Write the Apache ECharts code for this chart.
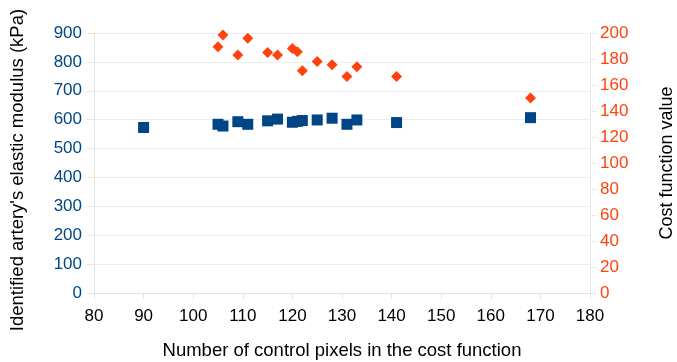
<!DOCTYPE html>
<html>
<head>
    <meta charset="utf-8">
    <title>Elastic modulus vs control pixels</title>
    <script src="https://cdn.jsdelivr.net/npm/echarts@6/dist/echarts.min.js"></script>
    <style>
        html, body { margin: 0; padding: 0; background: #fff; }
        #chart { width: 677px; height: 362px; }
    </style>
</head>
<body>
<div id="chart"></div>
<script>
    // number of control pixels (x)
    var pixels = [90, 105, 106, 109, 111, 115, 117, 120, 121, 122, 125, 128, 131, 133, 141, 168];
    // identified elastic modulus, kPa (left axis)
    var modulus = [573, 584, 578, 593, 584, 596, 602, 591, 594, 597, 599, 605, 584, 599, 590, 607];
    // cost function value (right axis), no value at 90
    var costPixels = [105, 106, 109, 111, 115, 117, 120, 121, 122, 125, 128, 131, 133, 141, 168];
    var cost = [189.5, 198.5, 183, 196, 185, 183, 188, 185.5, 171, 178, 175.5, 166.5, 174, 166.5, 150];

    var blue = '#004586';
    var orange = '#ff420e';
    var font = 'Liberation Sans';

    var modulusData = [];
    for (var i = 0; i < pixels.length; i++) {
        modulusData.push([pixels[i], modulus[i]]);
    }
    var costData = [];
    for (var j = 0; j < costPixels.length; j++) {
        costData.push([costPixels[j], cost[j]]);
    }

    var myChart = echarts.init(document.getElementById('chart'));
    var option = {
        animation: false,
        grid: { left: 94, right: 87, top: 33, bottom: 69, outerBoundsMode: 'none' },
        xAxis: {
            type: 'value',
            min: 80, max: 180, interval: 10,
            name: 'Number of control pixels in the cost function',
            nameLocation: 'middle',
            nameGap: 48,
            nameTextStyle: { color: '#000', fontFamily: font, fontSize: 18.5 },
            axisLine: { show: true, lineStyle: { color: '#e3e3e3' } },
            axisTick: { show: true, length: 6, lineStyle: { color: '#e3e3e3' } },
            axisLabel: { color: '#000', fontFamily: font, fontSize: 17, margin: 15 },
            splitLine: { show: false }
        },
        yAxis: [{
            type: 'value',
            position: 'left',
            min: 0, max: 900, interval: 100,
            name: "Identified artery's elastic modulus (kPa)",
            nameLocation: 'middle',
            nameGap: 67,
            nameTextStyle: { color: '#000', fontFamily: font, fontSize: 18.5, padding: [0, 14, 0, 0] },
            axisLine: { show: true, lineStyle: { color: '#e3e3e3' } },
            axisTick: { show: true, length: 7, lineStyle: { color: '#e3e3e3' } },
            axisLabel: { color: blue, fontFamily: font, fontSize: 17, margin: 12 },
            splitLine: { show: true, lineStyle: { color: '#eeeeee' } }
        }, {
            type: 'value',
            position: 'right',
            min: 0, max: 200, interval: 20,
            name: 'Cost function value',
            nameLocation: 'middle',
            nameGap: 68,
            nameRotate: 90,
            nameTextStyle: { color: '#000', fontFamily: font, fontSize: 18 },
            axisLine: { show: true, lineStyle: { color: '#ece8e0' } },
            axisTick: { show: true, length: 7, lineStyle: { color: '#ece8e0' } },
            axisLabel: { color: orange, fontFamily: font, fontSize: 17, margin: 10 },
            splitLine: { show: false }
        }],
        series: [{
            name: 'Elastic modulus',
            type: 'scatter',
            yAxisIndex: 0,
            symbol: 'rect',
            symbolSize: 11,
            itemStyle: { color: blue, opacity: 1 },
            data: modulusData
        }, {
            name: 'Cost function',
            type: 'scatter',
            yAxisIndex: 1,
            symbol: 'diamond',
            symbolSize: 11,
            itemStyle: { color: orange, opacity: 1 },
            data: costData
        }]
    };
    myChart.setOption(option);
</script>
</body>
</html>
